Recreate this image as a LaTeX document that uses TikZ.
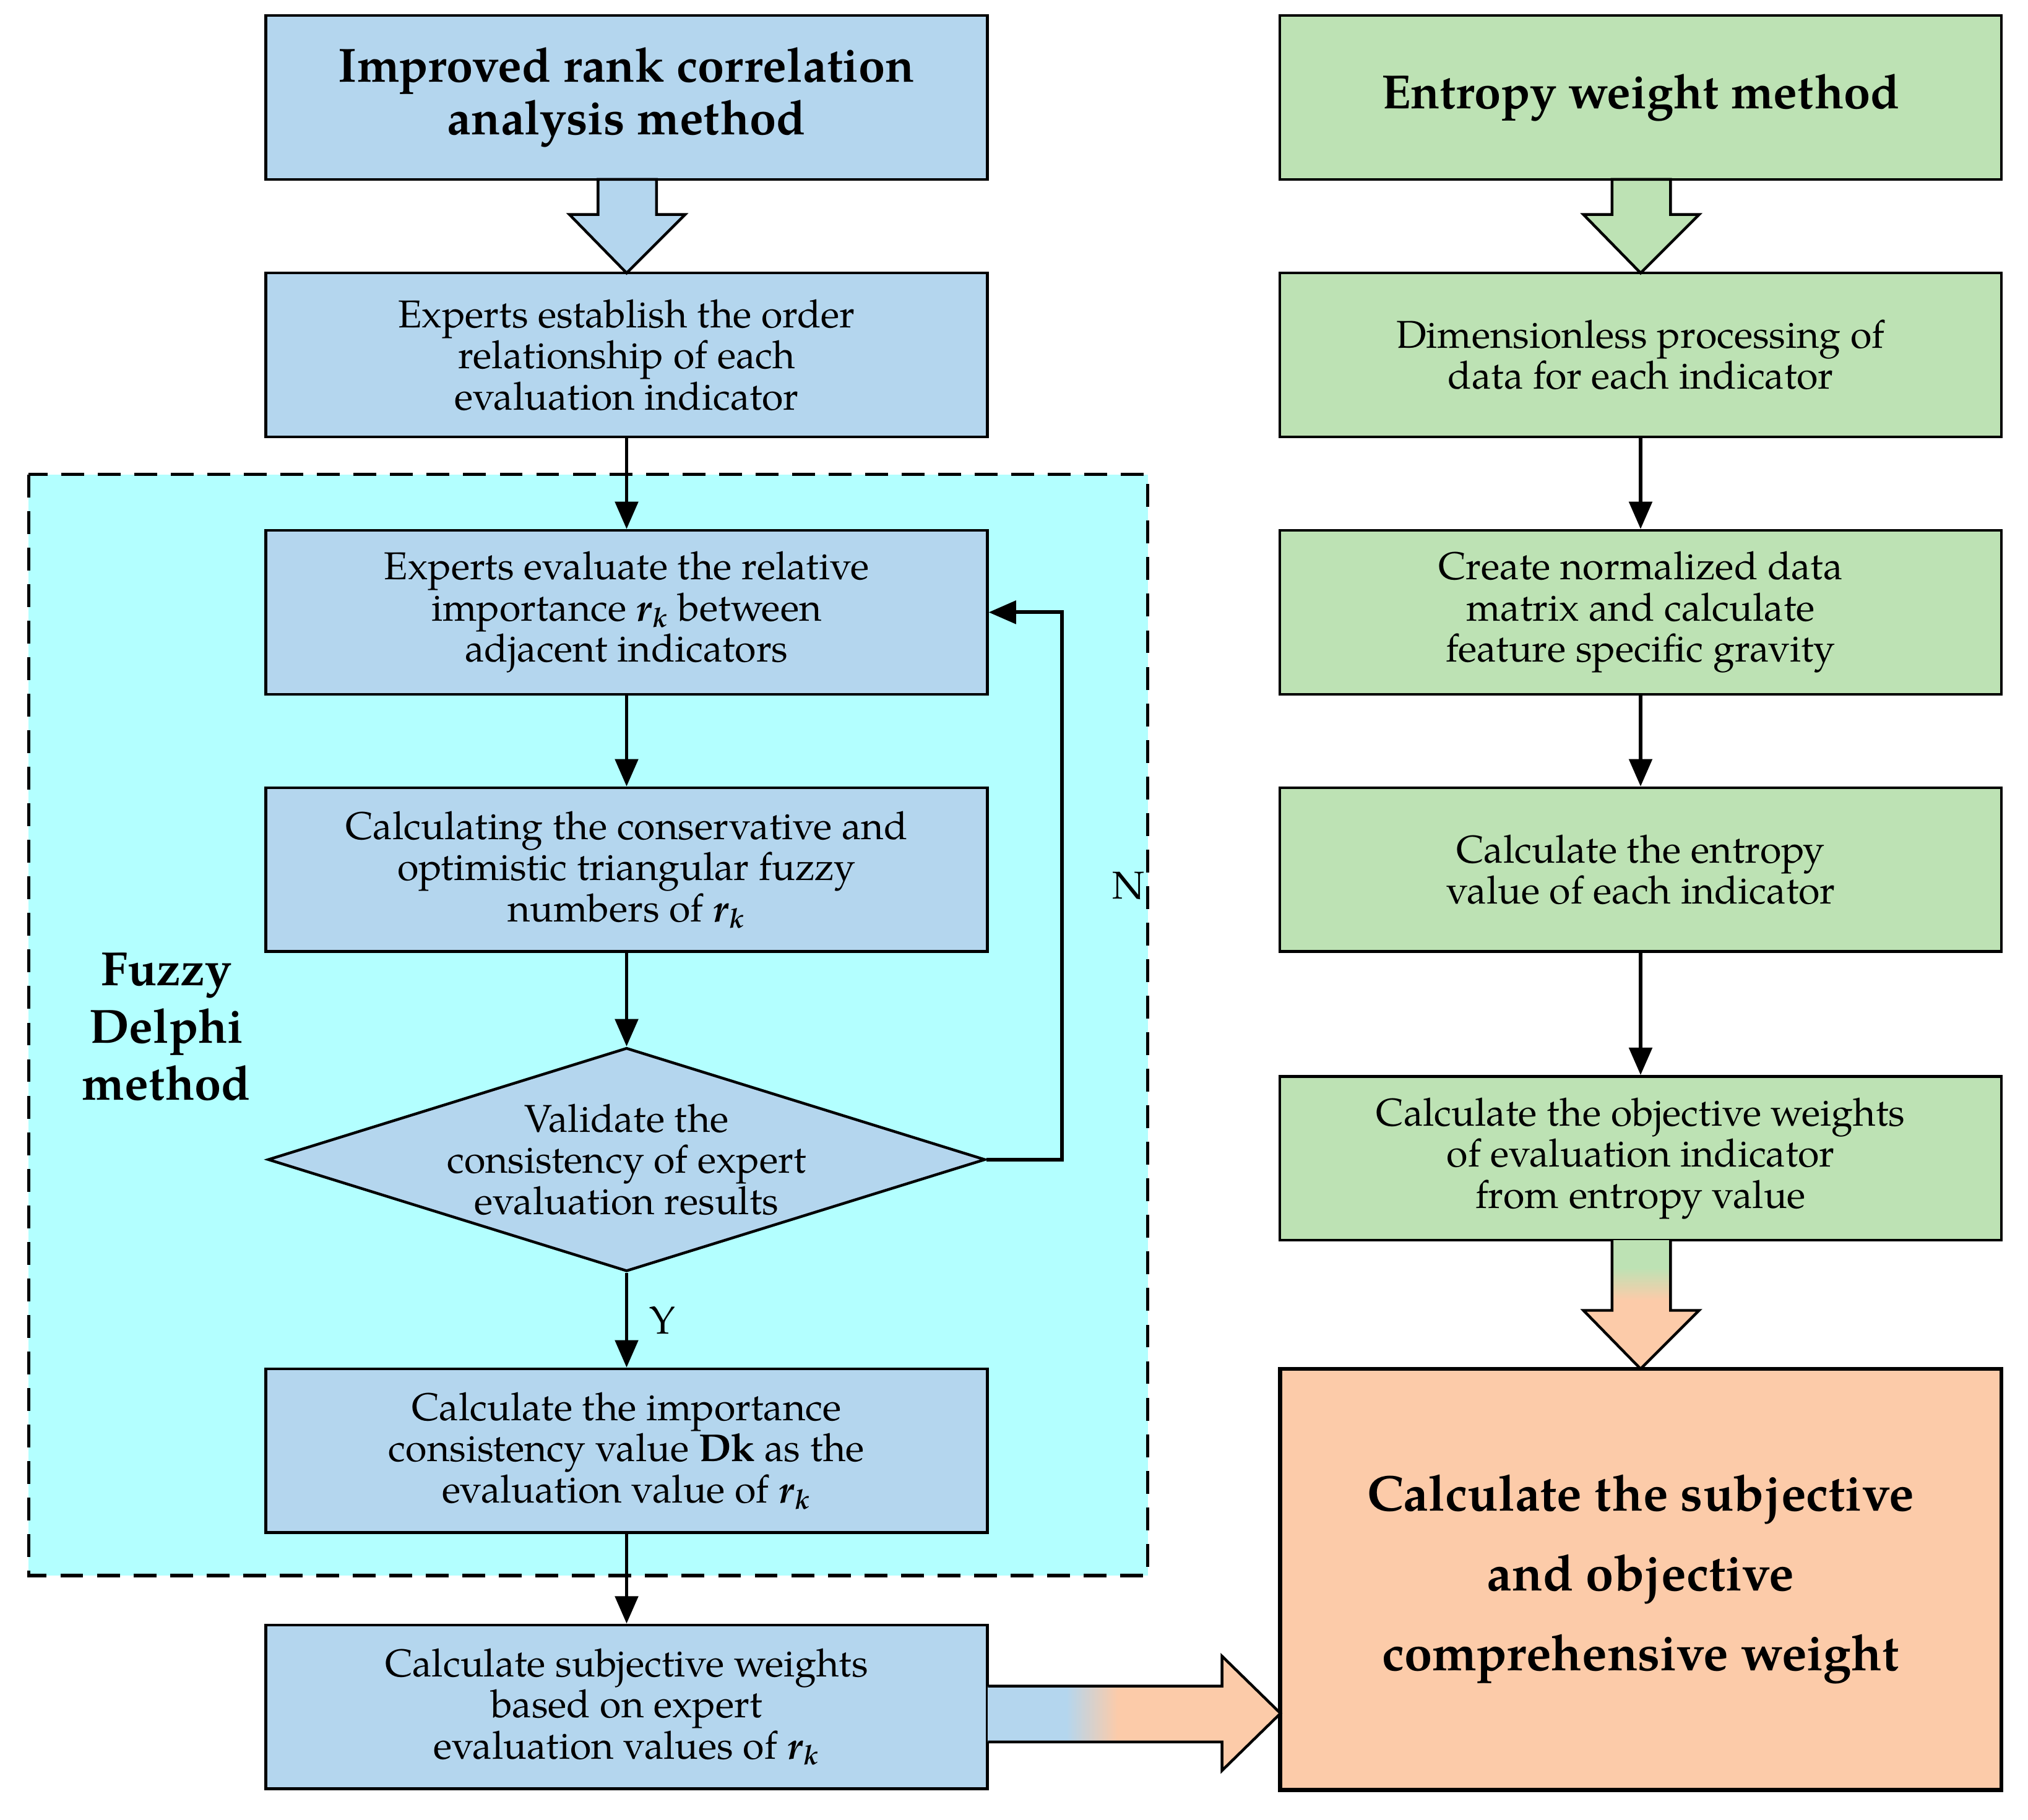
\documentclass[tikz,border=0pt]{standalone}
\usepackage{fontspec}
\setmainfont{TeX Gyre Pagella}
\usetikzlibrary{shapes.geometric,arrows.meta}
\definecolor{bl}{HTML}{B4D6EE}
\definecolor{gr}{HTML}{BDE2B4}
\definecolor{orr}{HTML}{FCCBA9}
\definecolor{cy}{HTML}{B3FFFF}
\newcommand{\rk}{\textbf{\textit{r}\textsubscript{\textit{k}}}}
\begin{document}
\begin{tikzpicture}[x=0.02cm,y=-0.02cm,
 box/.style={draw,line width=1.2pt,minimum width=11.1cm,minimum height=2.52cm,align=center,font=\fontsize{17}{18}\selectfont},
 arr/.style={line width=1.6pt,-{Triangle[length=12pt,width=10pt]}}]
\useasboundingbox (0,0) rectangle (1560,1400);
\fill[cy] (22,365) rectangle (883,1212);
\draw[line width=1.4pt,dash pattern=on 10pt off 6pt] (22,365) rectangle (883,1212);
\node[box,fill=bl,font=\fontsize{21}{23}\selectfont\bfseries] (a) at (482,75) {Improved rank correlation\\analysis method};
\node[box,fill=bl] (b) at (482,273) {Experts establish the order\\relationship of each\\evaluation indicator};
\node[box,fill=bl] (c) at (482,471) {Experts evaluate the relative\\importance \rk{} between\\adjacent indicators};
\node[box,fill=bl] (d) at (482,669) {Calculating the conservative and\\optimistic triangular fuzzy\\numbers of \rk};
\node[diamond,draw,line width=1.2pt,fill=bl,minimum width=11.04cm,minimum height=3.44cm,inner sep=0pt] (e) at (482,892) {};
\node[align=center,font=\fontsize{17}{18}\selectfont] (et) at (482,892) {Validate the\\consistency of expert\\evaluation results};
\node[box,fill=bl] (f) at (482,1116) {Calculate the importance\\consistency value \textbf{Dk} as the\\evaluation value of \rk};
\node[box,fill=bl] (g) at (482,1313) {Calculate subjective weights\\based on expert\\evaluation values of \rk};
\node[box,fill=gr,font=\fontsize{21}{23}\selectfont\bfseries] (h) at (1262,75) {Entropy weight method};
\node[box,fill=gr] (i) at (1262,273) {Dimensionless processing of\\data for each indicator};
\node[box,fill=gr] (j) at (1262,471) {Create normalized data\\matrix and calculate\\feature specific gravity};
\node[box,fill=gr] (k) at (1262,669) {Calculate the entropy\\value of each indicator};
\node[box,fill=gr] (l) at (1262,891) {Calculate the objective weights\\of evaluation indicator\\from entropy value};
\node[box,fill=orr,line width=1.8pt,minimum height=6.48cm,font=\fontsize{22}{35}\selectfont\bfseries] (m) at (1262,1215) {Calculate the subjective\\and objective\\comprehensive weight};
\node[font=\fontsize{21}{25}\selectfont\bfseries,align=center] (fd) at (128,790) {Fuzzy\\Delphi\\method};
% block arrows
\draw[line width=1.2pt,fill=bl] (460,138)--(505,138)--(505,165)--(527,165)--(482,210)--(438,165)--(460,165)--cycle;
\draw[line width=1.2pt,fill=gr] (1240,138)--(1285,138)--(1285,165)--(1307,165)--(1262,210)--(1218,165)--(1240,165)--cycle;
\fill[gr] (1240,954) rectangle (1285,975);
\shade[top color=gr,bottom color=orr] (1240,975) rectangle (1285,1000);
\fill[orr] (1240,1000)--(1285,1000)--(1285,1008)--(1307,1008)--(1262,1053)--(1218,1008)--(1240,1008)--cycle;
\draw[line width=1.2pt] (1240,954)--(1240,1008)--(1218,1008)--(1262,1053)--(1307,1008)--(1285,1008)--(1285,954);
\fill[bl] (760,1297) rectangle (820,1340);
\shade[left color=bl,right color=orr] (820,1297) rectangle (860,1340);
\fill[orr] (860,1297)--(940,1297)--(940,1274)--(985,1318)--(940,1362)--(940,1340)--(860,1340)--cycle;
\draw[line width=1.2pt] (760,1297)--(940,1297)--(940,1274)--(985,1318)--(940,1362)--(940,1340)--(760,1340);
% connectors
\draw[arr] (b)--(c);
\draw[arr] (c)--(d);
\draw[arr] (d)--(e.north);
\draw[arr] (e.south)--(f) node[pos=0.5,right=6pt,font=\fontsize{17}{18}\selectfont]{Y};
\draw[arr] (f)--(g);
\draw[arr] (e.east)--(817,892)--(817,471) node[pos=0.5,right=18pt,font=\fontsize{17}{18}\selectfont]{N}--(c.east);
\draw[arr] (i)--(j);
\draw[arr] (j)--(k);
\draw[arr] (k)--(l);
\end{tikzpicture}
\end{document}
